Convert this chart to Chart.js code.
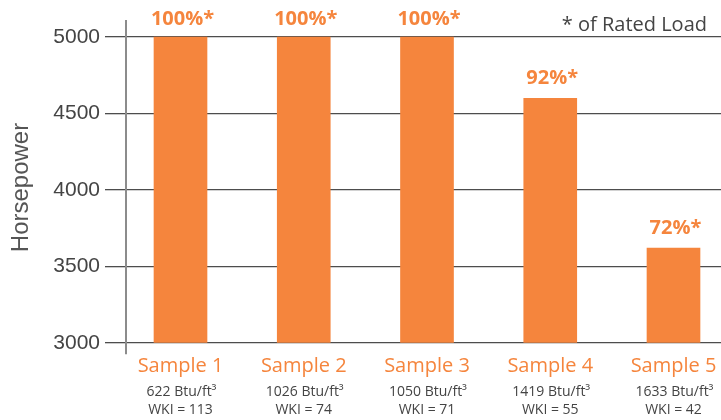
<!DOCTYPE html>
<html>
<head>
<meta charset="utf-8">
<script src="https://cdn.jsdelivr.net/npm/chart.js@4"></script>
<style>
  html, body { margin: 0; padding: 0; background: #fff; }
  #wrap { width: 721px; height: 420px; }
</style>
</head>
<body>
<div id="wrap"><canvas id="hpChart" width="721" height="420"></canvas></div>
<script>
const categories = ['Sample 1', 'Sample 2', 'Sample 3', 'Sample 4', 'Sample 5'];
const horsepower = [5000, 5000, 5000, 4600, 3620];
const loadLabels = ['100%*', '100%*', '100%*', '92%*', '72%*'];
const btuLabels = ['622 Btu/ft³', '1026 Btu/ft³', '1050 Btu/ft³', '1419 Btu/ft³', '1633 Btu/ft³'];
const wkiLabels = ['WKI = 113', 'WKI = 74', 'WKI = 71', 'WKI = 55', 'WKI = 42'];
const yTicks = [3000, 3500, 4000, 4500, 5000];

const ORANGE = '#f5853d';
const GREY_TEXT = '#444444';
const LABEL_FONT = '"Open Sans", sans-serif';

// extra texts: percent over bars, sub-labels under categories, note at top right
const extraText = {
    id: 'extraText',
    afterDatasetsDraw(chart) {
        const ctx = chart.ctx;
        const meta = chart.getDatasetMeta(0);
        ctx.save();
        ctx.fillStyle = ORANGE;
        ctx.font = 'bold 20px ' + LABEL_FONT;
        ctx.textAlign = 'center';
        ctx.textBaseline = 'alphabetic';
        meta.data.forEach((bar, i) => {
            ctx.fillText(loadLabels[i], bar.x + 2, Math.max(bar.y - 14, 25));
        });

        const xs = chart.scales.x;
        ctx.fillStyle = GREY_TEXT;
        ctx.font = '14px ' + LABEL_FONT;
        ctx.textBaseline = 'middle';
        categories.forEach((c, i) => {
            const x = xs.getPixelForValue(i);
            ctx.fillText(btuLabels[i], x + 1, 392);
            ctx.fillText(wkiLabels[i], x, 410);
        });

        ctx.font = '20px ' + LABEL_FONT;
        ctx.textAlign = 'right';
        ctx.fillText('* of Rated Load', 707, 25);
        ctx.restore();
    }
};

new Chart(document.getElementById('hpChart'), {
    type: 'bar',
    data: {
        datasets: [{
            data: horsepower.map((v, i) => ({ x: i, y: v })),
            backgroundColor: ORANGE,
            barThickness: 53,
            base: 3000
        }]
    },
    options: {
        responsive: false,
        animation: false,
        layout: { padding: { top: 21, left: 0, right: 0, bottom: 0 } },
        plugins: { legend: { display: false }, tooltip: { enabled: false } },
        scales: {
            x: {
                type: 'linear',
                offset: false,
                min: -0.4422,
                max: 4.3854,
                grid: { display: false, drawTicks: false },
                border: { display: false },
                ticks: {
                    stepSize: 1,
                    includeBounds: false,
                    autoSkip: false,
                    maxRotation: 0,
                    padding: 0,
                    color: ORANGE,
                    font: { family: LABEL_FONT, size: 20 },
                    callback: v => categories[v]
                },
                afterFit: s => { s.height = 66; s.paddingLeft = 0; s.paddingRight = 0; }
            },
            y: {
                min: 2928,
                max: 5105,
                grid: { color: '#4d4d4d', lineWidth: 1.3, tickLength: 21 },
                border: { color: '#8c8c8c', width: 2 },
                afterBuildTicks: s => { s.ticks = yTicks.map(v => ({ value: v })); },
                ticks: {
                    padding: 5,
                    color: GREY_TEXT,
                    font: { family: '"Liberation Sans", Arial, sans-serif', size: 21 },
                    callback: v => String(v)
                },
                title: {
                    display: true,
                    text: 'Horsepower',
                    color: '#555555',
                    padding: { top: 7, bottom: 0 },
                    font: { family: '"Liberation Sans", Arial, sans-serif', size: 24 }
                },
                afterFit: s => { s.width = 126; }
            }
        }
    },
    plugins: [extraText]
});
</script>
</body>
</html>
